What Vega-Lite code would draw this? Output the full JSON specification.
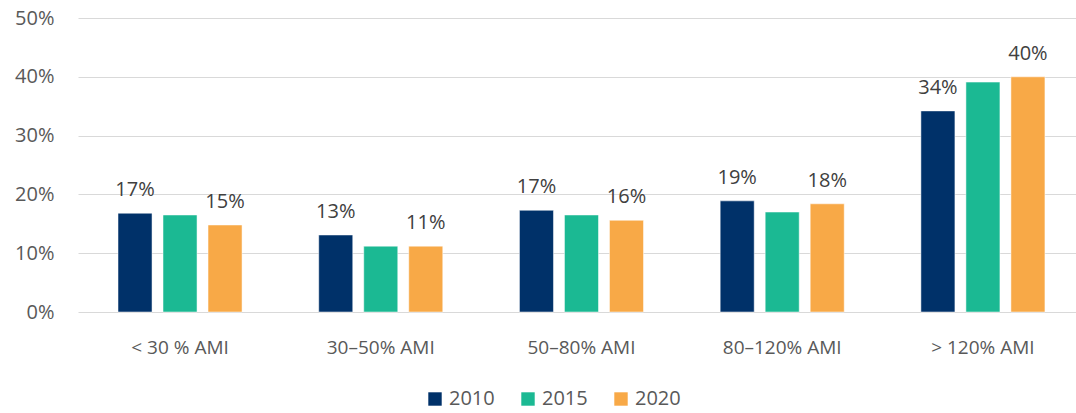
{
  "$schema": "https://vega.github.io/schema/vega-lite/v6.json",
  "width": 998,
  "height": 294,
  "autosize": {"type": "none"},
  "padding": {"left": 78, "top": 18, "right": 0, "bottom": 101},
  "background": "white",
  "config": {
    "view": {"stroke": null},
    "font": "Open Sans",
    "text": {"font": "Open Sans"}
  },
  "data": {
    "values": [
      {"band": "< 30 % AMI", "year": "2010", "share": 0.168},
      {"band": "< 30 % AMI", "year": "2015", "share": 0.165},
      {"band": "< 30 % AMI", "year": "2020", "share": 0.148},
      {"band": "30–50% AMI", "year": "2010", "share": 0.131},
      {"band": "30–50% AMI", "year": "2015", "share": 0.112},
      {"band": "30–50% AMI", "year": "2020", "share": 0.112},
      {"band": "50–80% AMI", "year": "2010", "share": 0.173},
      {"band": "50–80% AMI", "year": "2015", "share": 0.165},
      {"band": "50–80% AMI", "year": "2020", "share": 0.156},
      {"band": "80–120% AMI", "year": "2010", "share": 0.189},
      {"band": "80–120% AMI", "year": "2015", "share": 0.170},
      {"band": "80–120% AMI", "year": "2020", "share": 0.184},
      {"band": "> 120% AMI", "year": "2010", "share": 0.342},
      {"band": "> 120% AMI", "year": "2015", "share": 0.391},
      {"band": "> 120% AMI", "year": "2020", "share": 0.400}
    ]
  },
  "encoding": {
    "x": {
      "field": "band",
      "type": "nominal",
      "sort": null,
      "scale": {"paddingInner": 0.382, "paddingOuter": 0.177, "align": 0.563},
      "axis": {
        "title": null,
        "labelAngle": 0,
        "domain": false,
        "ticks": false,
        "labelFont": "Open Sans",
        "labelFontSize": 19,
        "labelColor": "#595959",
        "labelPadding": 26
      }
    },
    "xOffset": {
      "field": "year",
      "type": "nominal",
      "scale": {"paddingInner": 0.244, "paddingOuter": 0}
    },
    "y": {
      "field": "share",
      "type": "quantitative",
      "scale": {"domain": [0, 0.5], "nice": false},
      "axis": {
        "title": null,
        "format": ".0%",
        "values": [0, 0.1, 0.2, 0.3, 0.4, 0.5],
        "labelOverlap": false,
        "domain": false,
        "ticks": false,
        "labelFont": "Open Sans",
        "labelFontSize": 20,
        "labelColor": "#595959",
        "labelPadding": 24,
        "gridColor": "#d9d9d9",
        "gridWidth": 1
      }
    }
  },
  "layer": [
    {
      "mark": {"type": "bar", "stroke": "white", "strokeWidth": 0.5},
      "encoding": {
        "color": {
          "field": "year",
          "type": "nominal",
          "scale": {"domain": ["2010", "2015", "2020"], "range": ["#003169", "#1bb993", "#f8a947"]},
          "legend": {
            "title": null,
            "orient": "none",
            "legendX": 347,
            "legendY": 371,
            "direction": "horizontal",
            "symbolType": "square",
            "symbolSize": 180,
            "symbolStrokeWidth": 0,
            "labelFont": "Open Sans",
            "labelFontSize": 20,
            "labelColor": "#595959",
            "columnPadding": 23,
            "labelOffset": 4
          }
        }
      }
    },
    {
      "transform": [{"filter": "datum.year != '2015'"}],
      "mark": {"type": "text", "baseline": "alphabetic", "dy": -17, "fontSize": 20, "color": "#404040"},
      "encoding": {
        "text": {"field": "share", "type": "quantitative", "format": ".0%"}
      }
    }
  ]
}
